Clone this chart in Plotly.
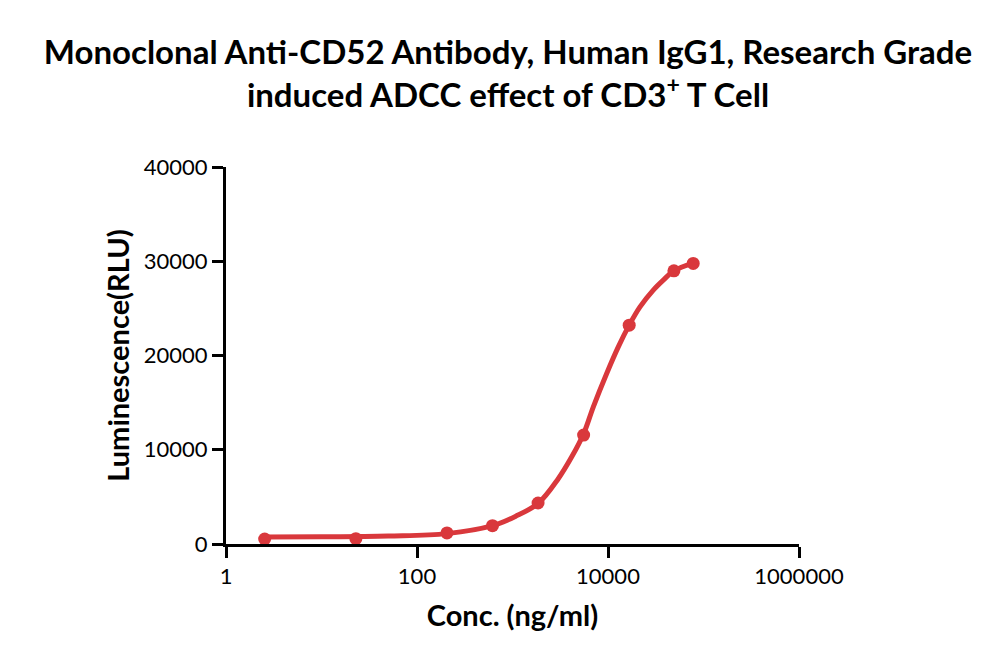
""" ADCC dose-response chart for anti-CD52 IgG1 """

import plotly.graph_objects as go

conc = [2.54, 22.9, 206, 617, 1852, 5556, 16667, 49000, 78000]
rlu = [530, 560, 1170, 1940, 4350, 11560, 23220, 28980, 29770]

# fitted curve, sampled along the drawn line
fit_conc = [2.54, 10, 50, 206, 617, 1070, 1852, 3000, 4200, 5556, 7020, 9690,
            12820, 16667, 21630, 29800, 37930, 49000, 78000]
fit_rlu = [740, 760, 850, 1100, 1940, 2930, 4300, 6900, 9300, 11700, 14560, 18100,
           20920, 23220, 25160, 26940, 28000, 28980, 29800]

x_ticks = [1, 100, 10000, 1000000]
x_labels = ["1", "100", "10000", "1000000"]
y_ticks = [0, 10000, 20000, 30000, 40000]
y_labels = ["0", "10000", "20000", "30000", "40000"]

RED = "#d9383c"
FONT = "Lato"

fig = go.Figure()
fig.add_trace(
    go.Scatter(
        x=fit_conc,
        y=fit_rlu,
        mode="lines",
        line=dict(color=RED, width=5, shape="spline", smoothing=1.0),
        hoverinfo="skip",
        showlegend=False,
    )
)
fig.add_trace(
    go.Scatter(
        x=conc,
        y=rlu,
        mode="markers",
        marker=dict(color=RED, size=13),
        showlegend=False,
    )
)

axis_style = dict(
    showline=True,
    linecolor="black",
    linewidth=3,
    ticks="outside",
    ticklen=11,
    tickwidth=3,
    tickcolor="black",
    showgrid=False,
    zeroline=False,
    tickfont=dict(family=FONT, size=22, color="black"),
)

fig.update_xaxes(
    type="log",
    range=[0, 6],
    tickvals=x_ticks,
    ticktext=x_labels,
    title=dict(
        text="<b>Conc. (ng/ml)</b>",
        font=dict(family=FONT, size=29, color="black"),
        standoff=18,
    ),
    **axis_style,
)
fig.update_yaxes(
    range=[0, 40000],
    tickvals=y_ticks,
    ticktext=y_labels,
    title=dict(
        text="<b>Luminescence(RLU)</b>",
        font=dict(family=FONT, size=29, color="black"),
        standoff=6,
    ),
    **axis_style,
)

# page body adds an 8px offset, margins are set to compensate
fig.update_layout(
    width=1000,
    height=661,
    margin=dict(l=218, r=209, t=159, b=125),
    plot_bgcolor="white",
    paper_bgcolor="white",
    title=dict(
        text="<b>Monoclonal Anti-CD52 Antibody, Human IgG1, Research Grade<br>"
        "induced ADCC effect of CD3<sup>+</sup> T Cell</b>",
        x=0.5,
        xanchor="center",
        y=0.915,
        yanchor="top",
        font=dict(family=FONT, size=33, color="black"),
    ),
)

fig.write_html("out.html")
